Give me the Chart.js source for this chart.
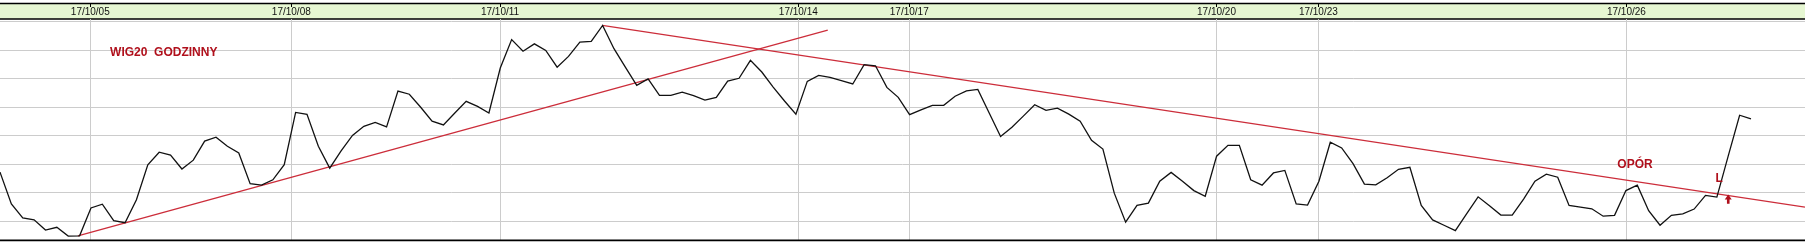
<!DOCTYPE html>
<html>
<head>
<meta charset="utf-8">
<script src="https://cdn.jsdelivr.net/npm/chart.js@4.4.1/dist/chart.umd.min.js"></script>
<style>
  html, body { margin: 0; padding: 0; background: #ffffff; overflow: hidden; }
  #wrap { width: 1805px; height: 242px; }
</style>
</head>
<body>
<div id="wrap"><canvas id="c" width="1805" height="242"></canvas></div>
<script>
// ---- data (hourly WIG20 closes) ----
const tickLabels = ['17/10/05', '17/10/08', '17/10/11', '17/10/14', '17/10/17', '17/10/20', '17/10/23', '17/10/26'];
const tickPositions = [7.94, 25.62, 43.98, 70.21, 79.97, 106.99, 115.95, 143.04];
const gridValues = [2440, 2450, 2460, 2470, 2480, 2490, 2500, 2510];

const wig20 = [
  2457.2, 2446.0, 2441.1, 2440.4, 2436.8, 2437.8, 2434.7, 2434.8, 2444.6, 2445.9,
  2440.1, 2439.4, 2447.5, 2459.8, 2464.2, 2463.2, 2458.3, 2461.4, 2468.1, 2469.5,
  2466.3, 2463.9, 2453.1, 2452.6, 2454.5, 2459.8, 2478.2, 2477.5, 2466.3, 2458.6,
  2464.7, 2470.1, 2473.3, 2474.7, 2473.1, 2485.7, 2484.6, 2480.0, 2475.1, 2473.8,
  2478.0, 2482.1, 2480.3, 2478.0, 2493.8, 2503.8, 2499.7, 2502.3, 2500.0, 2494.1,
  2497.9, 2502.9, 2503.2, 2508.8, 2500.6, 2494.1, 2487.7, 2490.0, 2484.2, 2484.2,
  2485.3, 2484.1, 2482.5, 2483.5, 2489.2, 2490.2, 2496.5, 2492.4, 2487.1, 2482.2,
  2477.6, 2489.1, 2491.2, 2490.5, 2489.4, 2488.2, 2495.0, 2494.6, 2487.0, 2483.5,
  2477.4, 2479.1, 2480.7, 2480.7, 2483.9, 2485.8, 2486.3, 2478.0, 2469.7, 2473.0,
  2476.9, 2480.9, 2478.9, 2479.7, 2477.6, 2475.1, 2468.4, 2465.3, 2449.8, 2439.6,
  2445.5, 2446.3, 2454.0, 2457.1, 2454.0, 2450.7, 2448.7, 2462.8, 2466.6, 2466.6,
  2454.5, 2452.6, 2456.9, 2457.8, 2446.0, 2445.6, 2454.0, 2467.7, 2465.7, 2460.2,
  2453.0, 2452.7, 2455.2, 2458.2, 2458.9, 2445.5, 2440.4, 2438.5, 2436.6, 2442.6,
  2448.5, 2445.4, 2442.1, 2442.1, 2447.7, 2454.0, 2456.5, 2455.4, 2445.5, 2444.9,
  2444.3, 2441.7, 2442.0, 2450.7, 2452.6, 2443.6, 2438.5, 2442.0, 2442.5, 2444.2,
  2449.0, 2448.4, 2462.9, 2477.2, 2475.9
];

// trend lines: [x (hour index), value]
const supportX = [6.85, 72.8];
const supportY = [2434.8, 2507.1];
const resistX = [52.97, 158.75];
const resistY = [2508.8, 2444.9];

// annotations
const noteTexts = ['WIG20  GODZINNY', 'OP\u00d3R', 'L'];
const noteX = [14.4, 143.8, 151.2];
const noteY = [2499.3, 2459.7, 2455.0];
const arrowX = [152.0];
const arrowTop = [2449.3];
const arrowBottom = [2446.1];

const xMin = 0, xMax = 158.75;
const yMin = 2433.32, yMax = 2511.05;

const RED_LINE = '#cc2d3a';
const RED_TEXT = '#b0101c';

const headerPlugin = {
  id: 'header',
  beforeDraw(chart) {
    const ctx = chart.ctx;
    const w = chart.width;
    ctx.save();
    ctx.fillStyle = '#ffffff';
    ctx.fillRect(0, 0, w, chart.height);
    ctx.fillStyle = '#e6f7d2';
    ctx.fillRect(0, 3.5, w, 15.5);
    ctx.strokeStyle = '#000000';
    ctx.lineWidth = 1.3;
    ctx.beginPath(); ctx.moveTo(0, 3.5); ctx.lineTo(w, 3.5); ctx.stroke();
    ctx.lineWidth = 1.6;
    ctx.beginPath(); ctx.moveTo(0, 19); ctx.lineTo(w, 19); ctx.stroke();
    const xs = chart.scales.x;
    ctx.lineWidth = 1;
    tickPositions.forEach(p => {
      const px = Math.round(xs.getPixelForValue(p)) + 0.5;
      ctx.beginPath(); ctx.moveTo(px, 3.5); ctx.lineTo(px, 7); ctx.stroke();
    });
    ctx.restore();
  },
  afterDraw(chart) {
    const ctx = chart.ctx;
    const a = chart.chartArea;
    ctx.save();
    ctx.strokeStyle = '#000000';
    ctx.lineWidth = 1.8;
    ctx.beginPath(); ctx.moveTo(0, a.bottom + 0.3); ctx.lineTo(chart.width, a.bottom + 0.3); ctx.stroke();
    ctx.restore();
  },
  afterDatasetsDraw(chart) {
    const ctx = chart.ctx;
    const xs = chart.scales.x, ys = chart.scales.y;
    ctx.save();
    ctx.fillStyle = RED_TEXT;
    ctx.textAlign = 'center';
    ctx.textBaseline = 'middle';
    noteTexts.forEach((t, i) => {
      ctx.font = 'bold 12px "Liberation Sans", Arial, sans-serif';
      ctx.fillText(t, xs.getPixelForValue(noteX[i]), ys.getPixelForValue(noteY[i]));
    });
    // small up arrow
    arrowX.forEach((ax, i) => {
      const cx = xs.getPixelForValue(ax);
      const top = ys.getPixelForValue(arrowTop[i]);
      const bot = ys.getPixelForValue(arrowBottom[i]);
      const headH = (bot - top) * 0.55;
      ctx.beginPath();
      ctx.moveTo(cx, top);
      ctx.lineTo(cx + 3.5, top + headH);
      ctx.lineTo(cx + 1.3, top + headH);
      ctx.lineTo(cx + 1.3, bot);
      ctx.lineTo(cx - 1.3, bot);
      ctx.lineTo(cx - 1.3, top + headH);
      ctx.lineTo(cx - 3.5, top + headH);
      ctx.closePath();
      ctx.fill();
    });
    ctx.restore();
  }
};

const chart = new Chart(document.getElementById('c'), {
  type: 'line',
  data: {
    datasets: [
      {
        label: 'WIG20',
        data: wig20.map((v, i) => ({ x: i, y: v })),
        borderColor: '#111111',
        borderWidth: 1.3,
        pointRadius: 0,
        tension: 0,
        fill: false
      },
      {
        label: 'support',
        data: supportX.map((x, i) => ({ x: x, y: supportY[i] })),
        borderColor: RED_LINE,
        borderWidth: 1.3,
        pointRadius: 0,
        fill: false
      },
      {
        label: 'resistance',
        data: resistX.map((x, i) => ({ x: x, y: resistY[i] })),
        borderColor: RED_LINE,
        borderWidth: 1.3,
        pointRadius: 0,
        fill: false
      }
    ]
  },
  options: {
    responsive: false,
    animation: false,
    devicePixelRatio: 1,
    layout: { autoPadding: false, padding: { top: 0, bottom: 2, left: 0, right: 0 } },
    plugins: { legend: { display: false }, tooltip: { enabled: false } },
    scales: {
      x: {
        type: 'linear',
        position: 'top',
        min: xMin,
        max: xMax,
        afterBuildTicks: s => { s.ticks = tickPositions.map(v => ({ value: v })); },
        afterFit: s => { s.height = 19; },
        border: { display: false },
        grid: { color: '#cccccc', lineWidth: 1, drawTicks: false },
        ticks: {
          autoSkip: false,
          maxRotation: 0,
          minRotation: 0,
          padding: 1,
          color: '#111111',
          font: { family: '"Liberation Sans Narrow", "Liberation Sans", Arial, sans-serif', size: 10 },
          callback: (v, i) => tickLabels[i]
        }
      },
      y: {
        type: 'linear',
        min: yMin,
        max: yMax,
        afterBuildTicks: s => { s.ticks = gridValues.map(v => ({ value: v })); },
        afterFit: s => { s.width = 0; },
        border: { display: false },
        grid: { color: '#cccccc', lineWidth: 1, drawTicks: false },
        ticks: { display: false }
      }
    }
  },
  plugins: [headerPlugin]
});
</script>
</body>
</html>
